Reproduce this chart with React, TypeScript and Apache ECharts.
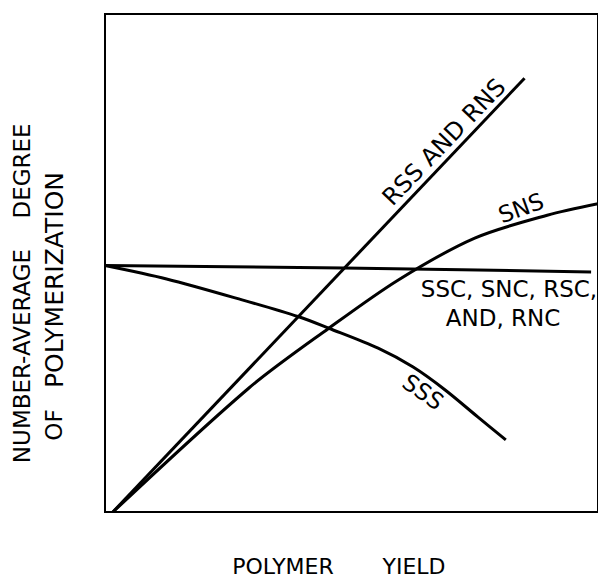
import React, { useEffect, useRef } from "react";
import * as echarts from "echarts";

// Data (x: polymer yield, y: number-average degree of polymerization), arbitrary 0-100 units
const rssX = [1.6, 85.1];
const rssY = [0, 87.1];

const snsX = [1.6, 29.2, 45.4, 59.5, 75.0, 89.7, 100];
const snsY = [0, 24.9, 36.9, 46.6, 55.0, 59.6, 61.9];

const flatX = [0, 48.4, 98.6];
const flatY = [49.5, 49.0, 48.2];

const sssX = [0, 12.5, 27.8, 39.3, 45.4, 55.4, 62.5, 69.0, 75.6, 81.3];
const sssY = [49.5, 46.8, 42.6, 39.2, 36.9, 32.9, 29.1, 24.5, 19.1, 14.5];

const curveNames = ["RSS AND RNS", "SNS", "SSC, SNC, RSC, AND, RNC", "SSS"];

const zip = (xs: number[], ys: number[]) => xs.map((x, i) => [x, ys[i]]);

const FONT = "DejaVu Sans";

export default function App() {
  const ref = useRef<HTMLDivElement>(null);

  useEffect(() => {
    if (!ref.current) return;
    const chart = echarts.init(ref.current, undefined, { renderer: "svg" });
    const lineStyle = { color: "#000", width: 3 };
    const txt = (
      text: string,
      x: number,
      y: number,
      rotDeg: number,
      size = 23
    ) => ({
      type: "text",
      x,
      y,
      rotation: (rotDeg * Math.PI) / 180,
      style: {
        text,
        fill: "#000",
        font: `${size}px "${FONT}"`,
        textAlign: "center",
        textVerticalAlign: "middle",
      },
      z: 10,
    });

    chart.setOption({
      animation: false,
      backgroundColor: "#fff",
      grid: {
        left: 105,
        right: -3,
        top: 14,
        bottom: 67,
        show: true,
        borderColor: "#000",
        borderWidth: 2,
        backgroundColor: "transparent",
      },
      xAxis: {
        type: "value",
        min: 0,
        max: 100,
        axisLine: { show: false },
        axisTick: { show: false },
        axisLabel: { show: false },
        splitLine: { show: false },
      },
      yAxis: {
        type: "value",
        min: 0,
        max: 100,
        axisLine: { show: false },
        axisTick: { show: false },
        axisLabel: { show: false },
        splitLine: { show: false },
      },
      series: [
        {
          name: curveNames[0],
          type: "line",
          data: zip(rssX, rssY),
          symbol: "none",
          lineStyle,
        },
        {
          name: curveNames[1],
          type: "line",
          data: zip(snsX, snsY),
          symbol: "none",
          smooth: 0.3,
          lineStyle,
        },
        {
          name: curveNames[2],
          type: "line",
          data: zip(flatX, flatY),
          symbol: "none",
          smooth: 0.2,
          lineStyle,
        },
        {
          name: curveNames[3],
          type: "line",
          data: zip(sssX, sssY),
          symbol: "none",
          smooth: 0.3,
          lineStyle,
        },
      ],
      graphic: [
        txt("RSS AND RNS", 444, 142, 46, 24),
        txt("SNS", 521, 208, 20),
        txt("SSC, SNC, RSC,", 509, 289, 0),
        txt("AND, RNC", 503, 318, 0),
        txt("SSS", 423, 392, -35),
        txt("POLYMER", 283, 566, 0, 22),
        txt("YIELD", 414, 566, 0, 22),
        txt("DEGREE", 22, 171, 90),
        txt("NUMBER-AVERAGE", 22, 356, 90),
        txt("POLYMERIZATION", 54, 280, 90, 25),
        txt("OF", 54, 425, 90),
      ],
    });
    return () => chart.dispose();
  }, []);

  return (
    <div
      ref={ref}
      style={{ position: "absolute", left: 0, top: 0, width: 598, height: 579 }}
    />
  );
}
